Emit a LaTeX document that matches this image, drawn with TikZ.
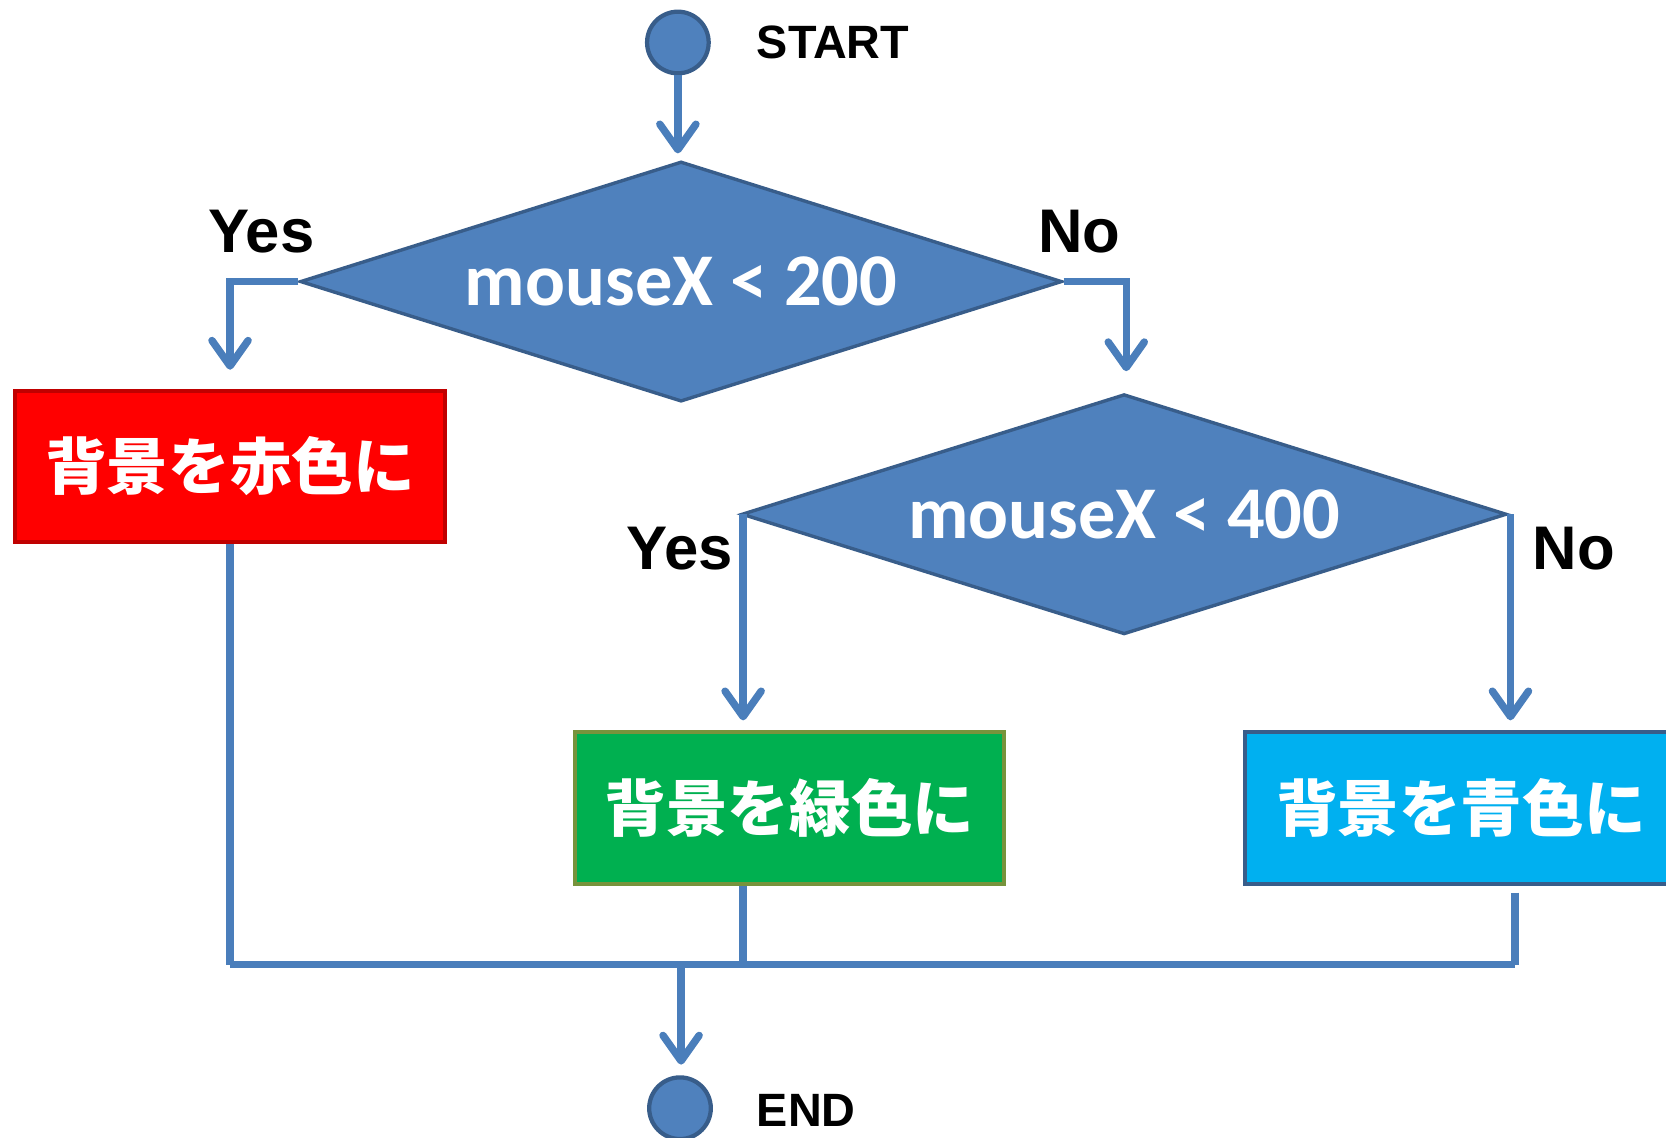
\documentclass[tikz,border=0pt]{standalone}
\usepackage{fontspec}
\setmainfont{Liberation Sans}
\newfontfamily\calib{Carlito}
\newfontfamily\cjk{Noto Sans CJK JP}
\usetikzlibrary{shapes.geometric,arrows.meta,calc}
\definecolor{sfill}{HTML}{4F81BD}
\definecolor{sline}{HTML}{385D8A}
\definecolor{conn}{HTML}{4A7EBB}
\definecolor{redline}{HTML}{C00000}
\definecolor{grfill}{HTML}{00B050}
\definecolor{grline}{HTML}{77933C}
\definecolor{blfill}{HTML}{00B0F0}
\begin{document}
\begin{tikzpicture}[x=0.5pt,y=-0.5pt,
  term/.style={circle,draw=sline,fill=sfill,line width=2pt,minimum size=29pt,inner sep=0pt},
  termtxt/.style={anchor=west,font=\bfseries\fontsize{22}{24}\selectfont,inner sep=0pt},
  dec/.style={diamond,aspect=3.17,draw=sline,fill=sfill,line width=1.6pt,inner sep=0pt,
    font=\calib\bfseries\fontsize{35}{38}\selectfont,text=white},
  proc/.style={rectangle,line width=2pt,inner sep=0pt,text=white,
    font=\cjk\bfseries\fontsize{29}{32}\selectfont},
  lbl/.style={font=\bfseries\fontsize{29}{32}\selectfont,inner sep=0pt},
  flow/.style={draw=conn,line width=3.5pt},
  arr/.style={flow,-{Straight Barb[length=12pt,width=17pt,round]}}]
\useasboundingbox (0,0) rectangle (1568,1071);

\node[term] (start) at (638,40) {};
\node[termtxt] (starttxt) at (712,40) {START};

\node[dec,minimum width=358.5pt,minimum height=113pt] (d1) at (641,265) {\raisebox{-1pt}{mouseX < 200}};
\node[dec,minimum width=360pt,minimum height=113pt] (d2) at (1058,484) {\raisebox{-1pt}{mouseX < 400}};

\node[proc,draw=redline,fill=red,minimum width=202.5pt,minimum height=71pt] (red) at (216.5,439) {背景を赤色に};
\node[proc,draw=grline,fill=grfill,minimum width=202pt,minimum height=71.5pt] (green) at (743,760.5) {背景を緑色に};
\node[proc,draw=sline,fill=blfill,minimum width=203pt,minimum height=71.5pt] (blue) at (1375,760.5) {背景を青色に};

\node[term] (end) at (640,1043) {};
\node[termtxt] (endtxt) at (712,1045) {END};

\node[lbl] (yes1) at (246,218) {Yes};
\node[lbl] (no1) at (1016,218) {No};
\node[lbl] (yes2) at (640,516) {Yes};
\node[lbl] (no2) at (1481,516) {No};

\coordinate (m) at (641,908);
\coordinate (bx) at (1426,908);

\draw[arr,shorten >=3pt] (start.south) -- (start.south |- d1.north);
\draw[arr,shorten >=9pt] (d1.west) -| (red.north);
\draw[arr,shorten >=10pt] (d1.east) -| ([xshift=1pt]d2.north);
\draw[arr,shorten >=4.5pt] ([xshift=1.5pt]d2.west) -- ([xshift=1.5pt]d2.west |- green.north);
\draw[arr,shorten >=4.5pt] ([xshift=1pt]d2.east) -- ([xshift=1pt]d2.east |- blue.north);

\draw[flow] (red.south) -- (red.south |- m);
\draw[flow] ([xshift=1.5pt]d2.west |- green.south) -- ([xshift=1.5pt]d2.west |- m);
\draw[flow,shorten <=3pt] (bx |- blue.south) -- (bx);
\draw[flow] (red.south |- m) -- (bx);
\draw[arr,shorten >=5pt] (m) -- (m |- end.north);
\end{tikzpicture}
\end{document}
